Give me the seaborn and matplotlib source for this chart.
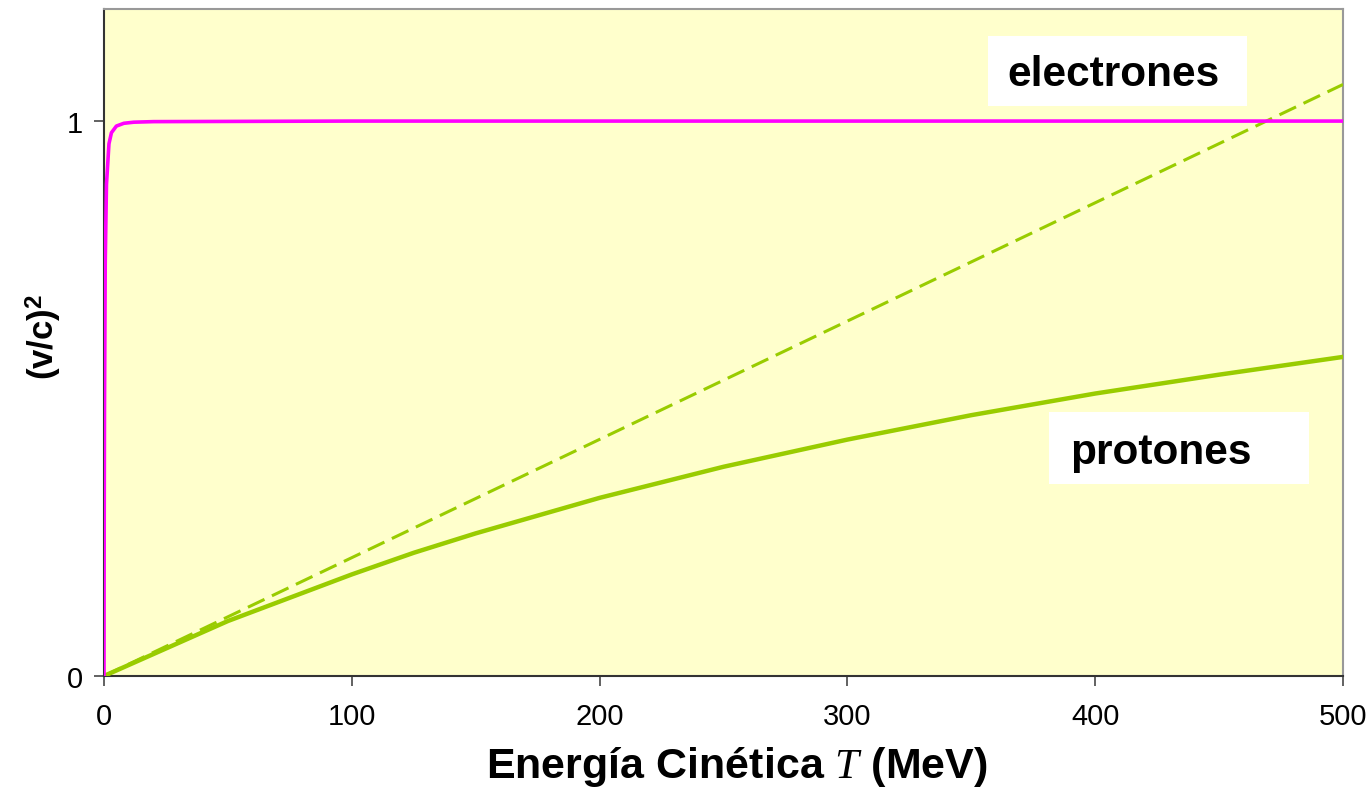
import matplotlib
matplotlib.use("Agg")
import matplotlib.pyplot as plt
from matplotlib.patches import Rectangle
import seaborn as sns
import pandas as pd

# values
T_electrones = [0, 0.05, 0.1, 0.2, 0.5, 1, 2, 3, 5, 8, 12, 20, 100, 500]
v2_electrones = [0, 0.17, 0.30, 0.48, 0.745, 0.886, 0.959, 0.979, 0.991, 0.996, 0.998, 0.999, 1.0, 1.0]

T_protones = [0, 50, 100, 125, 150, 200, 250, 300, 350, 400, 450, 500]
v2_protones = [0, 0.099, 0.183, 0.222, 0.257, 0.321, 0.377, 0.426, 0.470, 0.509, 0.543, 0.575]

T_clasico = [0, 500]
v2_clasico = [0, 1.066]

x_ticks = [0, 100, 200, 300, 400, 500]
y_ticks = [0, 1]

sns.set_style("white")
plt.rcParams["font.family"] = ["Liberation Sans", "DejaVu Sans"]
plt.rcParams["mathtext.fontset"] = "custom"
plt.rcParams["mathtext.rm"] = "Liberation Sans"
plt.rcParams["mathtext.bf"] = "Liberation Sans:bold"
plt.rcParams["mathtext.it"] = "Liberation Serif:italic"
plt.rcParams["text.color"] = "black"
plt.rcParams["axes.labelcolor"] = "black"

magenta = "#FF00FF"
verde = "#99CC00"

fig = plt.figure(figsize=(13.72, 8.12), dpi=100)
ax = fig.add_axes([0.0758, 0.1663, 0.9031, 0.8214])
ax.set_facecolor("#FFFFCC")

df_e = pd.DataFrame({"T": T_electrones, "v2": v2_electrones})
df_p = pd.DataFrame({"T": T_protones, "v2": v2_protones})
df_c = pd.DataFrame({"T": T_clasico, "v2": v2_clasico})

sns.lineplot(data=df_c, x="T", y="v2", ax=ax, color=verde, linewidth=2.2,
             linestyle=(0, (6, 2.7)), zorder=3)
sns.lineplot(data=df_p, x="T", y="v2", ax=ax, color=verde, linewidth=3.2, zorder=4)
sns.lineplot(data=df_e, x="T", y="v2", ax=ax, color=magenta, linewidth=2.6, zorder=5)

ax.set_xlim(0, 500)
ax.set_ylim(0, 1.202)
ax.set_xticks(x_ticks)
ax.set_yticks(y_ticks)
ax.tick_params(axis="both", bottom=True, left=True, labelsize=21,
               labelcolor="black", direction="out", length=7,
               width=1.3, color="#555555")
ax.tick_params(axis="x", pad=12)
ax.tick_params(axis="y", pad=8)

for s in ["left", "bottom"]:
    ax.spines[s].set_color("#333333")
    ax.spines[s].set_linewidth(1.5)
for s in ["top", "right"]:
    ax.spines[s].set_color("#999999")
    ax.spines[s].set_linewidth(1.5)

ax.set_xlabel(r"Energía Cinética $\mathit{T}$ (MeV)", fontsize=31,
              fontweight="bold", labelpad=10)
ax.set_ylabel(r"(v/c)$^{\mathbf{2}}$", fontsize=25, fontweight="bold", labelpad=2)
ax.xaxis.label.set_x(0.511)
ax.yaxis.label.set_y(0.51)

# label boxes
ax.add_patch(Rectangle((356.7, 1.027), 104.6, 0.126, facecolor="white",
                       edgecolor="none", zorder=6))
ax.text(407.5, 1.084, "electrones", fontsize=30.5, fontweight="bold",
        ha="center", va="center", zorder=7)
ax.add_patch(Rectangle((381.3, 0.346), 105.0, 0.130, facecolor="white",
                       edgecolor="none", zorder=6))
ax.text(426.6, 0.404, "protones", fontsize=30.5, fontweight="bold",
        ha="center", va="center", zorder=7)

fig.savefig("out.png", dpi=100)
